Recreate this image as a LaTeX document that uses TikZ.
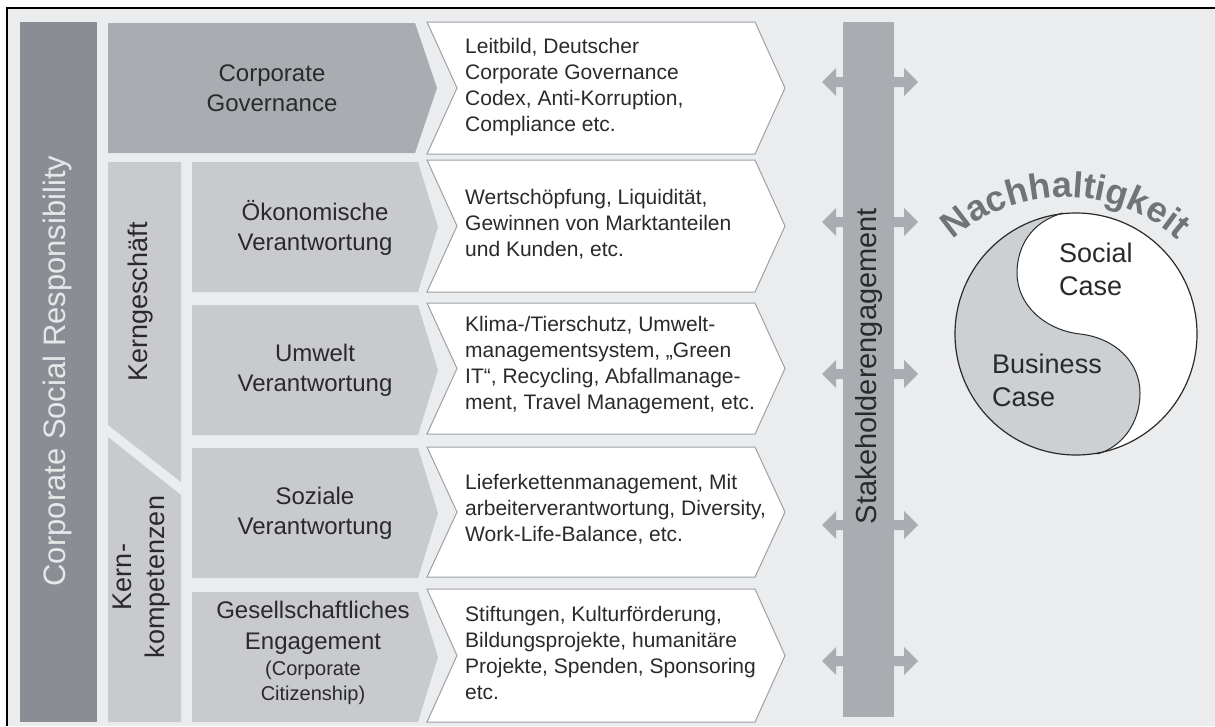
\documentclass[tikz,border=0pt]{standalone}
\usepackage{fontspec}
\setmainfont{Liberation Sans}
\usetikzlibrary{decorations.text}
\definecolor{sfondo}{HTML}{EBECEE}
\definecolor{scuro}{HTML}{8A8D93}
\definecolor{medio}{HTML}{A9ADB2}
\definecolor{chiaro}{HTML}{C8CACE}
\definecolor{bordo}{HTML}{9DA0A5}
\definecolor{testo}{HTML}{2A2A2A}
\definecolor{csrtesto}{HTML}{E6E7E9}
\definecolor{titolo}{HTML}{707378}
\definecolor{business}{HTML}{CDD0D3}
\newcommand{\nachfont}{\fontsize{36}{36}\selectfont\bfseries}
\begin{document}
\begin{tikzpicture}[x=1pt,y=-1pt,
	lbl/.style={text=testo,align=center,font=\fontsize{24}{30}\selectfont},
	info/.style={text=testo,align=left,anchor=west,inner sep=0pt,font=\fontsize{21}{26}\selectfont},
	vert/.style={rotate=90,text=testo,align=center,font=\fontsize{27}{33}\selectfont},
	freccia/.style={fill=white,draw=bordo,line width=1pt}]
		\useasboundingbox (0,0) rectangle (1215,726);
		% Sfondo e cornice
		\fill [sfondo] (7,8) rectangle (1215,726);
		\draw [line width=2pt] (7,726) -- (7,8) -- (1215,8);
		% Corporate Social Responsibility
		\fill [scuro] (20,22) rectangle (97,722);
		\node [rotate=90,text=csrtesto,font=\fontsize{31}{31}\selectfont] (csr) at (57,371) {Corporate Social Responsibility};
		% Corporate Governance
		\fill [medio] (108,23) -- (415,23) -- (437,88) -- (415,153) -- (108,153) -- cycle;
		\node [lbl] (cg) at (272,88) {Corporate\\Governance};
		% Kerngeschaeft e Kernkompetenzen
		\fill [chiaro] (108,162) -- (181,162) -- (181,482) -- (108,425) -- cycle;
		\fill [chiaro] (108,437) -- (181,495) -- (181,722) -- (108,722) -- cycle;
		\node [vert] (kg) at (141,302) {Kerngeschäft};
		\node [vert] (kk) at (142,577) {Kern-\\kompetenzen};
		% Verantwortung
		\foreach \t in {162,305,448,592}
			\fill [chiaro] (192,\t) -- (418,\t) -- (438,\t+65) -- (418,\t+130) -- (192,\t+130) -- cycle;
		\node [lbl] (oek) at (315,228) {Ökonomische\\Verantwortung};
		\node [lbl] (umw) at (315,370) {Umwelt\\Verantwortung};
		\node [lbl] (soz) at (315,513) {Soziale\\Verantwortung};
		\node [lbl,font=\fontsize{24}{31}\selectfont] (ges) at (313,628) {Gesellschaftliches\\Engagement};
		\node [lbl,font=\fontsize{20}{25}\selectfont] (cc) at (313,683) {(Corporate\\Citizenship)};
		% Inhalte
		\foreach \t/\b in {22/154,160/292,303/434,447/577,589/722}
			\draw [freccia] (427,\t) -- (755,\t) -- (785,{(\t+\b)/2}) -- (755,\b) -- (427,\b) -- (457,{(\t+\b)/2}) -- cycle;
		\node [info] (i1) at (465,87) {Leitbild, Deutscher\\Corporate Governance\\Codex, Anti-Korruption,\\Compliance etc.};
		\node [info] (i2) at (465,224) {Wertschöpfung, Liquidität,\\Gewinnen von Marktanteilen\\und Kunden, etc.};
		\node [info] (i3) at (465,365) {Klima-/Tierschutz, Umwelt-\\managementsystem, „Green\\IT“, Recycling, Abfallmanage-\\ment, Travel Management, etc.};
		\node [info] (i4) at (465,509) {Lieferkettenmanagement, Mit\\arbeiterverantwortung, Diversity,\\Work-Life-Balance, etc.};
		\node [info] (i5) at (465,653) {Stiftungen, Kulturförderung,\\Bildungsprojekte, humanitäre\\Projekte, Spenden, Sponsoring\\etc.};
		% Stakeholderengagement
		\foreach \y in {82,222,374,525,661}
			\fill [medio] (822,\y) -- (836,\y-14) -- (836,\y-5) -- (904,\y-5) -- (904,\y-14) -- (918,\y)
				-- (904,\y+14) -- (904,\y+5) -- (836,\y+5) -- (836,\y+14) -- cycle;
		\fill [medio] (843,22) rectangle (894,717);
		\node [rotate=90,text=testo,font=\fontsize{29}{29}\selectfont] (sh) at (869,366) {Stakeholderengagement};
		% Nachhaltigkeit
		\begin{scope}
			\clip (1076,334) circle (121);
			\fill [white] (1076,334) circle (121);
			\fill [business] (1063,213) .. controls (1030,222) and (1017,248) .. (1017,273)
				.. controls (1017,305) and (1045,330) .. (1080,334)
				.. controls (1115,338) and (1140,362) .. (1140,393)
				.. controls (1140,425) and (1120,448) .. (1097,454)
				-- (1097,520) -- (940,520) -- (940,150) -- (1063,150) -- cycle;
		\end{scope}
		\draw [line width=1pt,testo] (1063,213) .. controls (1030,222) and (1017,248) .. (1017,273)
			.. controls (1017,305) and (1045,330) .. (1080,334)
			.. controls (1115,338) and (1140,362) .. (1140,393)
			.. controls (1140,425) and (1120,448) .. (1097,454);
		\draw [line width=1.2pt,testo] (1076,334) circle (121);
		\node [text=testo,align=left,anchor=west,inner sep=0pt,font=\fontsize{27}{33}\selectfont] (soc) at (1059,269) {Social\\Case};
		\node [text=testo,align=left,anchor=west,inner sep=0pt,font=\fontsize{27}{33}\selectfont] (bus) at (992,380) {Business\\Case};
		\path [decorate,decoration={text along path,text={|\nachfont|Nachhaltigkeit},text align=center,text color=titolo}]
			(919.5,281) arc [start angle=210,end angle=330,radius=168];
	\end{tikzpicture}
\end{document}
